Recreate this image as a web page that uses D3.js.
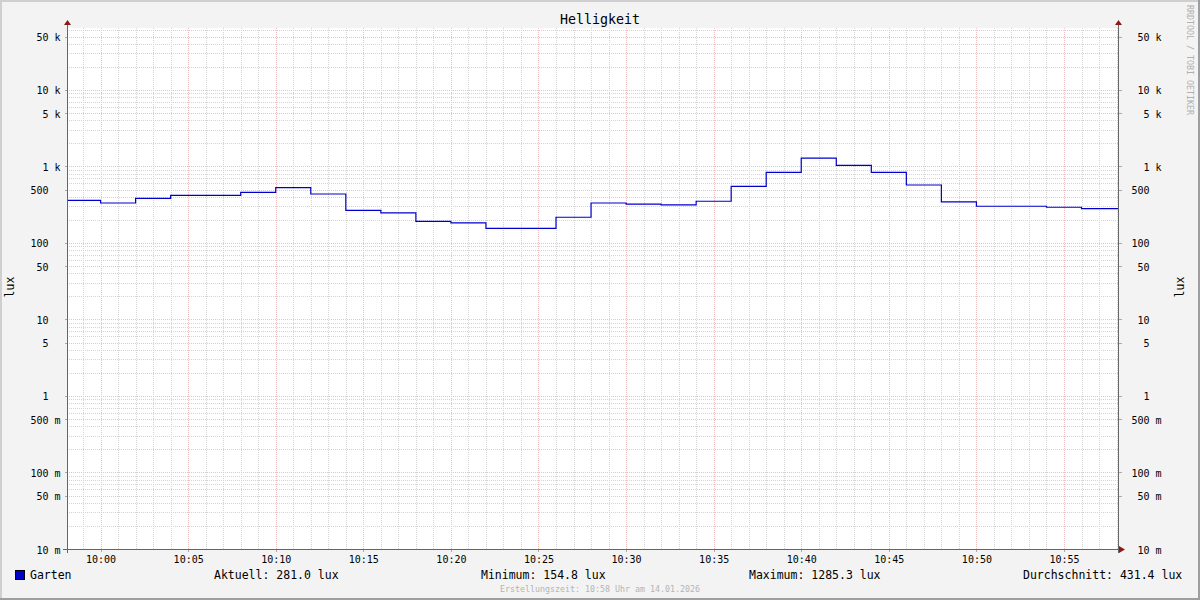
<!DOCTYPE html>
<html><head><meta charset="utf-8">
<script src="https://cdn.jsdelivr.net/npm/d3@7"></script>
<style>
body{margin:0;background:#f3f3f3;}
svg text{font-family:"DejaVu Sans Mono",monospace;white-space:pre;}
</style></head>
<body><svg id="c" width="1200" height="600"></svg>
<script>
// ---- data ----
const title = "Helligkeit";
const seriesName = "Garten";
const unit = "lux";
const stepStarts = ["09:58","10:00","10:02","10:04","10:06","10:08","10:10","10:12","10:14","10:16",
  "10:18","10:20","10:22","10:24","10:26","10:28","10:30","10:32","10:34","10:36",
  "10:38","10:40","10:42","10:44","10:46","10:48","10:50","10:52","10:54","10:56"];
const luxValues = [361,333,384,420,420,460,528,437,267,247,
  192,183,154.8,154.8,217,333,323,314,351,551,
  840,1285.3,1037,840,573,344,302,302,293,281];
const xTickLabels = ["10:00","10:05","10:10","10:15","10:20","10:25","10:30","10:35","10:40","10:45","10:50","10:55"];
const yMajorTicks = [0.01,0.05,0.1,0.5,1,5,10,50,100,500,1000,5000,10000,50000];
const statLabels = ["Aktuell: 281.0 lux","Minimum: 154.8 lux","Maximum: 1285.3 lux","Durchschnitt: 431.4 lux"];
const footer = "Erstellungszeit: 10:58 Uhr am 14.01.2026";
const watermark = "RRDTOOL / TOBI OETIKER";

// ---- layout ----
const X0 = 67, X1 = 1118, Y0 = 549, Y1 = 28;
const day = "2026-01-14T";
const parseT = s => new Date(day + s + ":00");
const tEnd = new Date(day + "10:58:05");
const tStart = new Date(tEnd.getTime() - 3600e3);

const svg = d3.select("#c");
const x = d3.scaleTime().domain([tStart, tEnd]).range([X0, X1]);
const y = d3.scaleLog().domain([0.01, 64600]).range([Y0, Y1]);

// background + frame
svg.append("rect").attr("width",1200).attr("height",600).attr("fill","#f3f3f3");
svg.append("path").attr("d","M0,600V0H1200").attr("fill","none").attr("stroke","#cfcfcf").attr("stroke-width",4);
svg.append("path").attr("d","M0,600H1200V0").attr("fill","none").attr("stroke","#9e9e9e").attr("stroke-width",4);
svg.append("rect").attr("x",X0).attr("y",Y1).attr("width",X1-X0).attr("height",Y0-Y1).attr("fill","#fff");

const grid = svg.append("g").attr("shape-rendering","crispEdges");
const minorCol = "#d4d4d4", majorCol = "#efc2c2";

// horizontal grid (log minor lines)
const yMinor = [];
for (let e = -2; e <= 4; e++) for (let m = 1; m <= 9; m++) {
  const v = m * Math.pow(10, e);
  if (v <= y.domain()[1]) yMinor.push(v);
}
const isMajorY = v => yMajorTicks.some(t => Math.abs(t - v) / t < 1e-9);
grid.selectAll("line.hg").data(yMinor.filter(v => !isMajorY(v))).join("line")
  .attr("x1",X0).attr("x2",X1).attr("y1",d=>Math.round(y(d))+0.5).attr("y2",d=>Math.round(y(d))+0.5)
  .attr("stroke",minorCol).attr("stroke-dasharray","1,1");
// vertical grid minor (every minute)
const minuteTicks = x.ticks(d3.timeMinute.every(1)).filter(t => t.getMinutes() % 5 !== 0);
grid.selectAll("line.vg").data(minuteTicks).join("line")
  .attr("y1",Y1).attr("y2",Y0).attr("x1",d=>Math.round(x(d))+0.5).attr("x2",d=>Math.round(x(d))+0.5)
  .attr("stroke",minorCol).attr("stroke-dasharray","1,1");
// major
grid.selectAll("line.hM").data(yMajorTicks).join("line")
  .attr("x1",X0).attr("x2",X1).attr("y1",d=>Math.round(y(d))+0.5).attr("y2",d=>Math.round(y(d))+0.5)
  .attr("stroke",majorCol).attr("stroke-dasharray","1,1");
const majorX = xTickLabels.map(parseT);
grid.selectAll("line.vM").data(majorX).join("line")
  .attr("y1",Y1).attr("y2",Y0).attr("x1",d=>Math.round(x(d))+0.5).attr("x2",d=>Math.round(x(d))+0.5)
  .attr("stroke",majorCol).attr("stroke-dasharray","1,1");

// series step line
const pts = stepStarts.map((s,i) => ({t: parseT(s), v: luxValues[i]}));
pts[0].t = tStart;
pts.push({t: tEnd, v: luxValues[luxValues.length-1]});
const line = d3.line().x(d=>x(d.t)).y(d=>y(d.v)).curve(d3.curveStepAfter);
svg.append("path").datum(pts).attr("d",line).attr("fill","none").attr("stroke","#0000cc").attr("stroke-width",1.2);

// axes
const fmtParts = v => {
  if (v >= 1000) return [String(v/1000), "k"];
  if (v < 1) return [String(Math.round(v*1000)), "m"];
  return [String(v), ""];
};
const leftFmt = v => { const [n,s] = fmtParts(v); return n.padStart(3," ") + (s ? " " + s : "  "); };
const rightFmt = v => { const [n,s] = fmtParts(v); return n.padStart(3," ") + (s ? " " + s : ""); };

const axL = svg.append("g").attr("transform",`translate(${X0+0.5},0)`)
  .call(d3.axisLeft(y).tickValues(yMajorTicks).tickFormat(leftFmt).tickSize(3).tickPadding(4));
const axR = svg.append("g").attr("transform",`translate(${X1+0.5},0)`)
  .call(d3.axisRight(y).tickValues(yMajorTicks).tickFormat(rightFmt).tickSize(3).tickPadding(10));
const axB = svg.append("g").attr("transform",`translate(0,${Y0+0.5})`)
  .call(d3.axisBottom(x).tickValues(majorX).tickFormat(d3.timeFormat("%H:%M")).tickSize(2).tickPadding(4));
[axL,axR,axB].forEach(a => {
  a.select(".domain").remove();
  a.selectAll("line").attr("stroke","#aaa").attr("shape-rendering","crispEdges");
  a.selectAll("text").attr("font-family","DejaVu Sans Mono").attr("font-size",10).attr("fill","#000").attr("xml:space","preserve");
});
axL.selectAll("text").attr("x",-7).attr("dy","0.4em");
axR.selectAll("text").attr("x",13).attr("text-anchor","start").attr("dy","0.4em");

// axis lines and arrows
const ax = svg.append("g").attr("shape-rendering","crispEdges").attr("stroke","#666").attr("stroke-width",1);
ax.append("line").attr("x1",X0-4).attr("x2",X1+2).attr("y1",Y0+0.5).attr("y2",Y0+0.5);
ax.append("line").attr("x1",X0+0.5).attr("x2",X0+0.5).attr("y1",Y0+4).attr("y2",Y1-4);
ax.append("line").attr("x1",X1+0.5).attr("x2",X1+0.5).attr("y1",Y0+4).attr("y2",Y1-4);
const arrowCol = "#8b1a1a";
svg.append("path").attr("d",`M${X0-3},${Y1-3}L${X0+0.5},${Y1-8}L${X0+4},${Y1-3}Z`).attr("fill",arrowCol);
svg.append("path").attr("d",`M${X1-3},${Y1-3}L${X1+0.5},${Y1-8}L${X1+4},${Y1-3}Z`).attr("fill",arrowCol);
svg.append("path").attr("d",`M${X1+1},${Y0-3}L${X1+7},${Y0+0.5}L${X1+1},${Y0+4}Z`).attr("fill",arrowCol);

// texts
svg.append("text").attr("x",600).attr("y",24).attr("text-anchor","middle").attr("font-size",13.3).text(title);
svg.append("text").attr("transform","translate(14,287) rotate(-90)").attr("text-anchor","middle").attr("font-size",11.5).text(unit);
svg.append("text").attr("transform","translate(1184,287) rotate(-90)").attr("text-anchor","middle").attr("font-size",11.5).text(unit);
svg.append("text").attr("transform","translate(1187,5) rotate(90)").attr("text-anchor","start").attr("font-size",8.3).attr("fill","#b0b0b0").text(watermark);

// legend
svg.append("rect").attr("x",15.5).attr("y",570.5).attr("width",9).attr("height",9).attr("fill","#0000cc").attr("stroke","#000");
svg.append("text").attr("x",30).attr("y",579).attr("font-size",11.5).text(seriesName);
const statX = [214, 481, 749, 1023];
statLabels.forEach((s,i) => svg.append("text").attr("x",statX[i]).attr("y",579).attr("font-size",11.5).text(s));
svg.append("text").attr("x",600).attr("y",592).attr("text-anchor","middle").attr("font-size",8.3).attr("fill","#b4b4b4").text(footer);
</script></body></html>
